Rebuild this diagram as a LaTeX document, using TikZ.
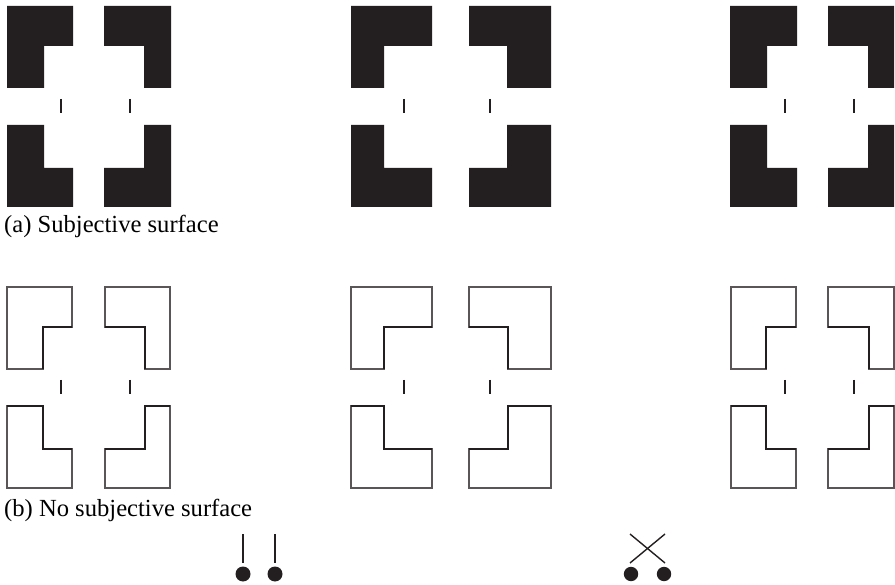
\documentclass[tikz,border=0pt]{standalone}
\usepackage{fontspec}
\setmainfont{Liberation Serif}
\definecolor{ink}{HTML}{231F20}
\definecolor{rim}{HTML}{5A5657}

% L-shaped corner pieces: box (x1,y1)-(x2,y2), notch corner at (xn,yn)
\newcommand\pieceTL[7]{\path[#7] (#1,#2) -- (#3,#2) -- (#3,#6) -- (#5,#6) -- (#5,#4) -- (#1,#4) -- cycle;}
\newcommand\pieceTR[7]{\path[#7] (#1,#2) -- (#3,#2) -- (#3,#4) -- (#5,#4) -- (#5,#6) -- (#1,#6) -- cycle;}
\newcommand\pieceBL[7]{\path[#7] (#1,#2) -- (#5,#2) -- (#5,#6) -- (#3,#6) -- (#3,#4) -- (#1,#4) -- cycle;}
\newcommand\pieceBR[7]{\path[#7] (#5,#2) -- (#3,#2) -- (#3,#4) -- (#1,#4) -- (#1,#6) -- (#5,#6) -- cycle;}

% one cluster of four pieces with two ticks
% #1 x1 of left pair, #2 x2 left, #3 notch left, #4 x1 right, #5 x2 right, #6 notch right,
% #7 tick left, #8 tick right, #9 vertical offset
\newcommand\cluster[9]{%
  \begin{scope}[yshift=-#9pt]
    \pieceTL{#1}{6}{#2}{88}{#3}{46}{piece}
    \pieceTR{#4}{6}{#5}{88}{#6}{46}{piece}
    \pieceBL{#1}{125}{#2}{207}{#3}{168}{piece}
    \pieceBR{#4}{125}{#5}{207}{#6}{168}{piece}
    \draw[tick] (#7,99) -- (#7,113);
    \draw[tick] (#8,99) -- (#8,113);
    \notchedges{#1}{#2}{#3}{#4}{#5}{#6}
  \end{scope}}

\begin{document}
\begin{tikzpicture}[x=1pt,y=-1pt,
  tick/.style={draw=ink,line width=2pt},
  solidpiece/.style={fill=ink},
  openpiece/.style={draw=rim,line width=1.1pt,line join=miter},
  inner/.style={draw=ink,line width=1.5pt},
  caption/.style={anchor=base west,inner sep=0pt,font=\fontsize{24.6}{28}\selectfont}]
\useasboundingbox (0,0) rectangle (895,585);

% (a) solid pieces
\tikzset{piece/.style={solidpiece}}
\newcommand\notchedges[6]{}
\cluster{7}{73}{44}{104}{171}{144}{61}{130}{0}
\cluster{351}{432}{384}{469}{551}{507}{404}{490}{0}
\cluster{730}{797}{767}{828}{894}{868}{785}{854}{0}
\node[caption] (capa) at (4,233) {(a) Subjective surface};

% (b) outlined pieces, inner edges darker
\tikzset{piece/.style={openpiece}}
\renewcommand\notchedges[6]{%
  \draw[inner] (#2,46) -- (#3,46) -- (#3,88);
  \draw[inner] (#4,46) -- (#6,46) -- (#6,88);
  \draw[inner] (#1,125) -- (#3,125) -- (#3,168) -- (#2,168);
  \draw[inner] (#5,125) -- (#6,125) -- (#6,168) -- (#4,168);}
\cluster{7}{72}{43}{105}{170}{145}{61}{130}{281}
\cluster{351}{432}{384}{469}{551}{508}{404}{490}{281}
\cluster{731}{796}{766}{828}{894}{869}{785}{854}{281}
\node[caption] (capb) at (4,516) {(b) No subjective surface};

% sticks ending in balls
\draw[line width=2.6pt,draw=ink] (243,534) -- (243,563);
\draw[line width=2.6pt,draw=ink] (275,534) -- (275,563);
\fill[ink] (243,574) circle (7.5);
\fill[ink] (275,574) circle (7.5);

% crossed sticks
\draw[line width=1.4pt,draw=ink] (630,534) -- (665,563);
\draw[line width=1.4pt,draw=ink] (665,534) -- (630,563);
\fill[ink] (631,574) circle (7.2);
\fill[ink] (664,574) circle (7.2);
\end{tikzpicture}
\end{document}
